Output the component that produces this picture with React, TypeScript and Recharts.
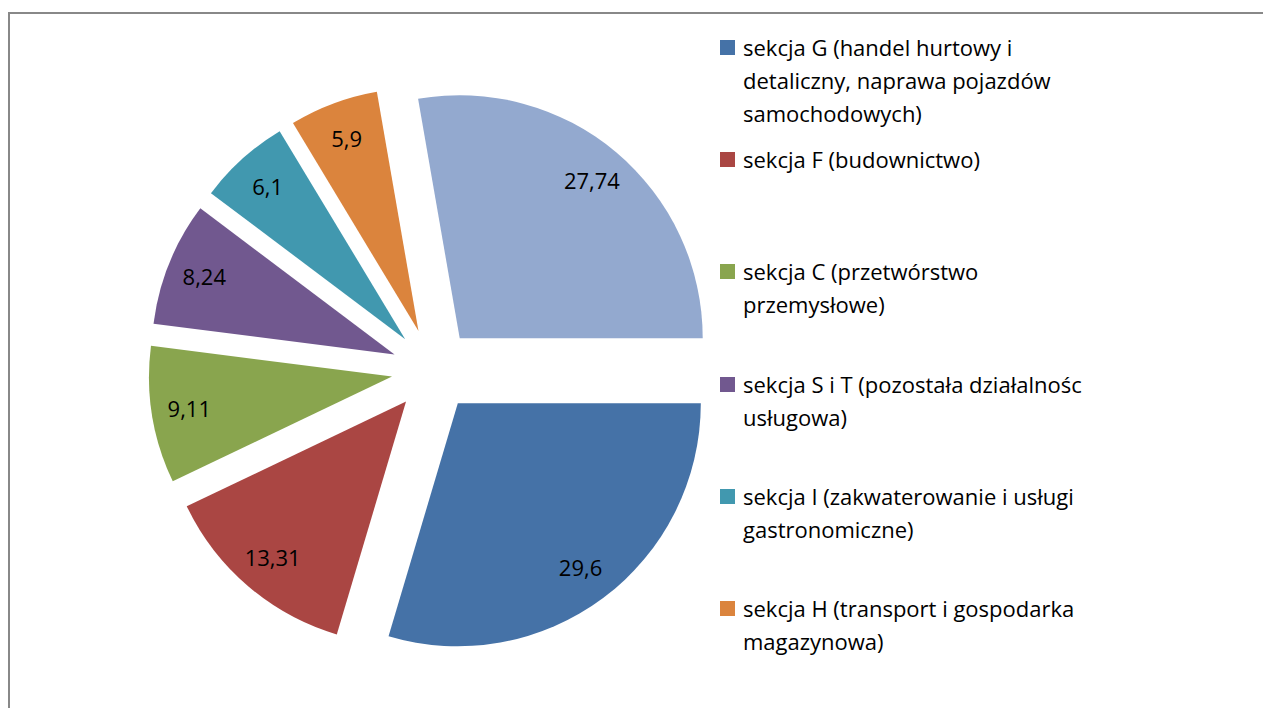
import { PieChart, Pie, Cell, Legend, Sector } from "recharts";

// Udział sekcji PKD (%), kolejność zgodnie z ruchem wskazówek zegara od godz. 3
const sections = [
  "sekcja G (handel hurtowy i\ndetaliczny, naprawa pojazdów\nsamochodowych)",
  "sekcja F (budownictwo)",
  "sekcja C (przetwórstwo\nprzemysłowe)",
  "sekcja S i T (pozostała działalnośc\nusługowa)",
  "sekcja I (zakwaterowanie i usługi\ngastronomiczne)",
  "sekcja H (transport i gospodarka\nmagazynowa)",
  "pozostałe sekcje",
];
const shares = [29.6, 13.31, 9.11, 8.24, 6.1, 5.9, 27.74];
const colors = ["#4572A7", "#AA4643", "#89A54E", "#71588F", "#4198AF", "#DB843D", "#93A9CF"];
// the original legend only lists the first six sections
const legendCount = 6;

const data = sections.map((name, i) => ({ name, value: shares[i] }));

const FONT = "'Open Sans', sans-serif";
const RAD = Math.PI / 180;
const EXPLODE = 41.5;

const shift = (x: number, y: number, angle: number, d: number) => ({
  x: x + d * Math.cos(-angle * RAD),
  y: y + d * Math.sin(-angle * RAD),
});

// exploded slice: every sector pushed out along its mid angle
const ExplodedSlice = (props: any) => {
  const p = shift(props.cx, props.cy, props.midAngle, EXPLODE);
  return (
    <Sector
      cx={p.x}
      cy={p.y}
      innerRadius={props.innerRadius}
      outerRadius={props.outerRadius}
      startAngle={props.startAngle}
      endAngle={props.endAngle}
      fill={props.fill}
      stroke="none"
    />
  );
};

const SliceLabel = (props: any) => {
  const { cx, cy, midAngle, outerRadius, value } = props;
  const apex = shift(cx, cy, midAngle, EXPLODE);
  const p = shift(apex.x, apex.y, midAngle, outerRadius * 0.845);
  return (
    <text x={p.x} y={p.y + 8} textAnchor="middle" fill="#000" fontSize={22} fontFamily={FONT}>
      {String(value).replace(".", ",")}
    </text>
  );
};

const LegendList = () => (
  <div style={{ fontFamily: FONT, fontSize: 22, color: "#000" }}>
    {sections.slice(0, legendCount).map((name, i) => (
      <div key={name} style={{ height: 112.2, display: "flex", alignItems: "flex-start" }}>
        <div style={{ width: 15, height: 15, background: colors[i], marginTop: 9, marginRight: 8, flexShrink: 0 }} />
        <div style={{ whiteSpace: "pre", lineHeight: "33px" }}>{name}</div>
      </div>
    ))}
  </div>
);

export default function App() {
  return (
    <div style={{ position: "relative", width: 1100, height: 700, background: "#fff" }}>
      {/* chart area frame: top and left edges, the rest lies outside the picture */}
      <div style={{ position: "absolute", left: 0, top: 4, width: 1263, height: 2, background: "#888" }} />
      <div style={{ position: "absolute", left: 0, top: 4, width: 2, height: 696, background: "#888" }} />
      <div style={{ position: "absolute", left: 0, top: 0 }}>
        <PieChart width={1100} height={700} margin={{ top: 0, right: 0, bottom: 0, left: 0 }}>
          <Pie
            data={data}
            dataKey="value"
            nameKey="name"
            cx={425}
            cy={362}
            outerRadius={243}
            startAngle={0}
            endAngle={-360}
            stroke="none"
            shape={ExplodedSlice}
            label={SliceLabel}
            labelLine={false}
            isAnimationActive={false}
          >
            {data.map((d, i) => (
              <Cell key={d.name} fill={colors[i]} />
            ))}
          </Pie>
          <Legend
            layout="vertical"
            align="right"
            verticalAlign="top"
            content={<LegendList />}
            wrapperStyle={{ left: 712, top: 23, width: 388 }}
          />
        </PieChart>
      </div>
    </div>
  );
}
